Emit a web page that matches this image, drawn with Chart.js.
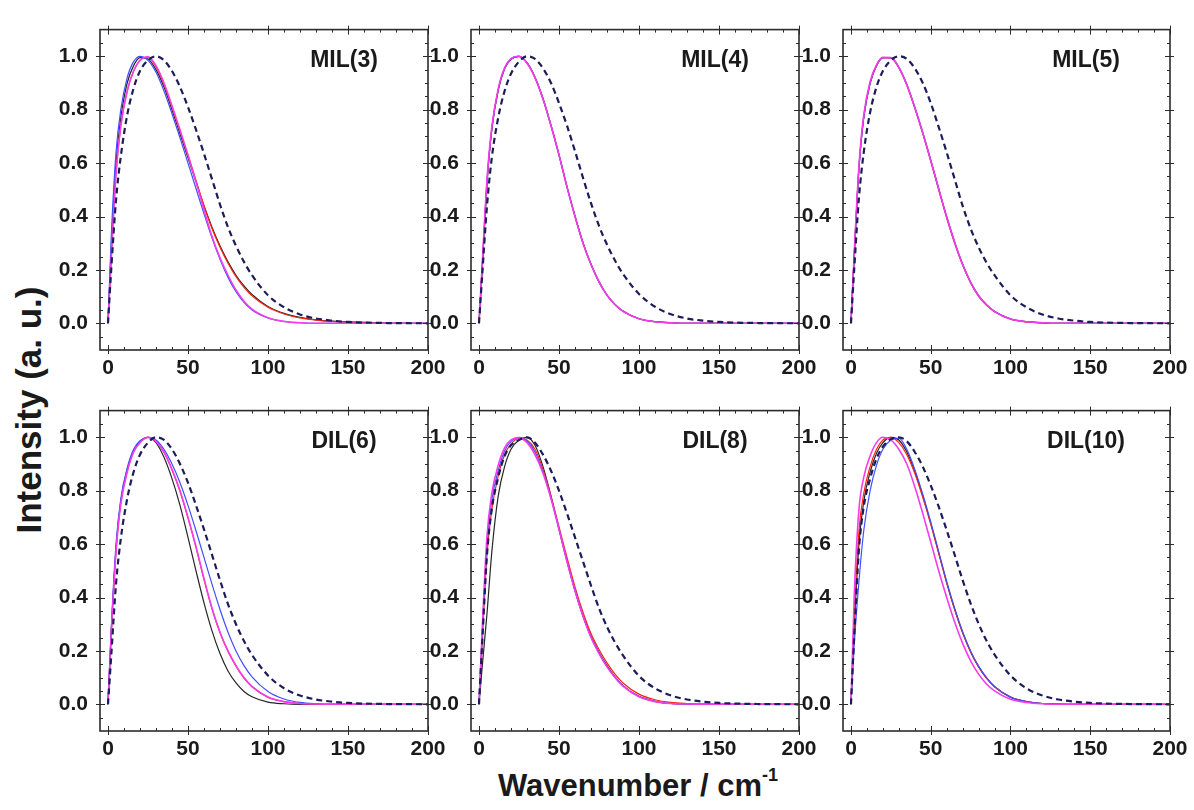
<!DOCTYPE html>
<html>
<head>
<meta charset="utf-8">
<script src="https://cdn.jsdelivr.net/npm/chart.js@4.4.1/dist/chart.umd.min.js"></script>
<style>
  body { margin: 0; background: #fff; width: 1194px; height: 810px; position: relative; overflow: hidden;
         font-family: 'Liberation Sans', Arial, sans-serif; color: #1a1a1a; }
  canvas { position: absolute; }
  .tag { position: absolute; font-weight: bold; font-size: 23px; transform: translate(-50%, -50%); white-space: nowrap; }
  #ytitle { position: absolute; left: 29px; top: 410px; transform: translate(-50%, -50%) rotate(-90deg);
            font-weight: bold; font-size: 35px; white-space: nowrap; }
  #xtitle { position: absolute; left: 638px; top: 786px; transform: translate(-50%, -50%);
            font-weight: bold; font-size: 31px; white-space: nowrap; }
  #xtitle sup { font-size: 18px; position: relative; top: -4px; }
</style>
</head>
<body>
<div id="ytitle">Intensity (a. u.)</div>
<div id="xtitle">Wavenumber / cm<sup>-1</sup></div>
<script>
// shared x grid (cm-1) and tick labels
const wavenumber = [0, 2, 5, 8, 12, 16, 20, 25, 30, 35, 40, 45, 50, 55, 60, 65, 70, 75, 80, 85, 90, 100, 110, 120, 130, 140, 150, 175, 200];
const xTicks = [0, 50, 100, 150, 200];
const yTicks = [0, 0.2, 0.4, 0.6, 0.8, 1.0];
const panelNames = ['MIL(3)', 'MIL(4)', 'MIL(5)', 'DIL(6)', 'DIL(8)', 'DIL(10)'];

// MIL(3)
const mil3Black   = [0, .28, .6, .77, .9, .965, .995, .99, .95, .885, .8, .71, .62, .53, .44, .36, .29, .23, .18, .14, .108, .063, .037, .022, .013, .008, .005, .001, 0];
const mil3Red     = [0, .24, .56, .74, .87, .945, .985, .997, .96, .895, .81, .72, .63, .535, .44, .355, .285, .225, .175, .135, .103, .06, .035, .02, .012, .007, .004, .001, 0];
const mil3Blue    = [0, .32, .64, .8, .92, .98, 1.0, .985, .94, .87, .785, .695, .6, .505, .41, .32, .24, .172, .118, .078, .05, .02, .007, .002, 0, 0, 0, 0, 0];
const mil3Magenta = [0, .24, .56, .74, .87, .945, .985, .998, .965, .9, .815, .725, .63, .53, .425, .325, .245, .18, .125, .083, .053, .021, .007, .002, 0, 0, 0, 0, 0];
const mil3Dashed  = [0, .2, .46, .625, .78, .88, .945, .985, 1.0, .985, .945, .885, .81, .725, .635, .54, .445, .36, .29, .23, .18, .105, .06, .033, .018, .01, .005, .001, 0];

// MIL(4)
const mil4Black   = [0, .2, .52, .725, .872, .953, .989, 1.0, .976, .922, .842, .742, .632, .512, .402, .302, .221, .156, .106, .071, .046, .017, .006, .002, 0, 0, 0, 0, 0];
const mil4Red     = [0, .21, .53, .73, .875, .955, .99, 1.0, .975, .92, .84, .74, .63, .51, .4, .3, .22, .155, .105, .07, .045, .017, .006, .002, 0, 0, 0, 0, 0];
const mil4Blue    = [0, .21, .53, .728, .874, .954, .99, 1.0, .975, .921, .841, .741, .631, .511, .401, .301, .221, .155, .105, .07, .045, .017, .006, .002, 0, 0, 0, 0, 0];
const mil4Magenta = [0, .22, .54, .735, .878, .957, .991, 1.0, .974, .92, .84, .74, .63, .51, .4, .3, .22, .155, .105, .07, .045, .017, .006, .002, 0, 0, 0, 0, 0];
const mil4Dashed  = [0, .18, .44, .62, .77, .87, .935, .98, 1.0, .99, .955, .9, .825, .74, .645, .545, .45, .365, .295, .235, .185, .11, .062, .034, .018, .01, .005, .001, 0];

// MIL(5)
const mil5Black   = [0, .25, .58, .77, .9, .965, .995, .995, .958, .893, .808, .713, .61, .503, .398, .303, .22, .153, .103, .069, .044, .016, .006, .002, 0, 0, 0, 0, 0];
const mil5Red     = [0, .25, .585, .775, .9, .965, .995, .994, .957, .892, .806, .711, .608, .5, .395, .3, .218, .151, .101, .067, .043, .015, .005, .001, 0, 0, 0, 0, 0];
const mil5Blue    = [0, .25, .58, .77, .9, .965, .995, .995, .96, .895, .81, .715, .612, .505, .4, .305, .222, .155, .105, .07, .045, .017, .006, .002, 0, 0, 0, 0, 0];
const mil5Magenta = [0, .26, .59, .78, .905, .968, .996, .995, .958, .893, .808, .713, .61, .503, .398, .303, .22, .153, .103, .069, .044, .016, .006, .002, 0, 0, 0, 0, 0];
const mil5Dashed  = [0, .2, .47, .64, .79, .885, .945, .985, 1.0, .99, .955, .9, .825, .735, .64, .54, .44, .355, .285, .227, .18, .105, .06, .033, .018, .01, .005, .001, 0];

// DIL(6)
const dil6Black   = [0, .27, .58, .76, .88, .95, .985, 1.0, .98, .925, .845, .745, .625, .5, .38, .275, .19, .125, .08, .048, .028, .008, .002, 0, 0, 0, 0, 0, 0];
const dil6Red     = [0, .26, .575, .755, .872, .946, .981, 1.0, .985, .944, .878, .798, .698, .588, .468, .358, .268, .198, .143, .098, .066, .026, .01, .003, .001, 0, 0, 0, 0];
const dil6Blue    = [0, .28, .6, .77, .885, .955, .987, 1.0, .99, .955, .9, .83, .745, .65, .55, .45, .355, .27, .2, .145, .103, .048, .02, .007, .002, 0, 0, 0, 0];
const dil6Magenta = [0, .26, .57, .75, .87, .945, .98, 1.0, .985, .945, .88, .8, .7, .59, .47, .36, .27, .2, .145, .1, .067, .027, .01, .003, .001, 0, 0, 0, 0];
const dil6Dashed  = [0, .18, .45, .62, .77, .87, .935, .98, 1.0, .99, .955, .9, .83, .745, .655, .56, .465, .375, .3, .237, .185, .108, .06, .033, .018, .01, .005, .001, 0];

// DIL(8)
const dil8Black   = [0, .14, .34, .57, .78, .89, .955, .99, 1.0, .97, .89, .78, .655, .535, .425, .33, .255, .195, .145, .103, .07, .03, .011, .003, .001, 0, 0, 0, 0];
const dil8Red     = [0, .23, .56, .73, .855, .935, .975, .997, .99, .955, .88, .78, .665, .55, .44, .345, .265, .205, .155, .113, .08, .038, .017, .007, .003, .001, 0, 0, 0];
const dil8Blue    = [0, .26, .6, .765, .875, .95, .985, 1.0, .985, .945, .87, .772, .657, .537, .427, .332, .252, .192, .142, .101, .069, .029, .011, .003, .001, 0, 0, 0, 0];
const dil8Magenta = [0, .28, .63, .79, .895, .96, .99, .998, .98, .935, .865, .77, .655, .535, .425, .33, .25, .19, .14, .1, .068, .028, .01, .003, .001, 0, 0, 0, 0];
const dil8Dashed  = [0, .23, .56, .73, .85, .93, .97, .99, 1.0, .98, .935, .875, .8, .715, .625, .535, .445, .36, .29, .232, .183, .106, .06, .033, .018, .01, .005, .001, 0];

// DIL(10)
const dil10Black   = [0, .28, .6, .76, .87, .94, .98, 1.0, .99, .945, .872, .78, .678, .567, .456, .356, .269, .197, .141, .098, .066, .027, .01, .003, .001, 0, 0, 0, 0];
const dil10Red     = [0, .32, .65, .79, .89, .955, .99, 1.0, .98, .935, .865, .775, .675, .565, .455, .355, .268, .196, .14, .097, .066, .027, .01, .003, .001, 0, 0, 0, 0];
const dil10Blue    = [0, .22, .46, .65, .8, .895, .955, .99, .997, .955, .88, .787, .683, .572, .46, .36, .272, .2, .143, .1, .067, .027, .01, .003, .001, 0, 0, 0, 0];
const dil10Magenta = [0, .4, .73, .85, .93, .98, 1.0, .99, .955, .9, .815, .715, .608, .5, .4, .308, .228, .163, .113, .076, .05, .019, .007, .002, 0, 0, 0, 0, 0];
const dil10Dashed  = [0, .25, .58, .74, .845, .92, .965, .993, 1.0, .985, .945, .89, .82, .74, .652, .56, .465, .378, .302, .238, .186, .108, .06, .033, .018, .01, .005, .001, 0];

const panelSeries = [
  [mil3Black, mil3Red, mil3Blue, mil3Magenta, mil3Dashed],
  [mil4Black, mil4Red, mil4Blue, mil4Magenta, mil4Dashed],
  [mil5Black, mil5Red, mil5Blue, mil5Magenta, mil5Dashed],
  [dil6Black, dil6Red, dil6Blue, dil6Magenta, dil6Dashed],
  [dil8Black, dil8Red, dil8Blue, dil8Magenta, dil8Dashed],
  [dil10Black, dil10Red, dil10Blue, dil10Magenta, dil10Dashed]
];

// layout of the plot boxes on the page
const plotLeft = [100, 471, 843], plotRight = [428, 799, 1170];
const plotTop = [17, 398], plotBottom = [350, 731];
const padL = 70, padR = 26, padT = 12, padB = 45;

const lineStyles = [
  { color: '#262626', width: 1.2, order: 4 },
  { color: '#ff2414', width: 1.2, order: 3 },
  { color: '#3f4fff', width: 1.2, order: 2 },
  { color: '#f43cec', width: 1.6, order: 1 },
  { color: '#1c1c5a', width: 2.2, order: 0, dash: [6, 4] }
];
const fontFamily = "'Liberation Sans', Arial, sans-serif";

// frame with Origin-style ticks on all four sides
const frameTicks = {
  id: 'frameTicks',
  afterDatasetsDraw(chart) {
    const { ctx, chartArea: a, scales: { x, y } } = chart;
    ctx.save();
    ctx.strokeStyle = '#2b2b2b';
    ctx.lineWidth = 1;
    ctx.beginPath();
    for (let v = 0; v <= 200; v += 10) {
      const px = Math.round(x.getPixelForValue(v)) + 0.5;
      const major = v % 50 === 0;
      const len = major ? 5 : 3;
      ctx.moveTo(px, a.bottom - len); ctx.lineTo(px, a.bottom + (major ? 4 : 0));
      ctx.moveTo(px, a.top + len); ctx.lineTo(px, a.top - (major ? 4 : 0));
    }
    for (let k = -1; k <= 21; k++) {
      const py = Math.round(y.getPixelForValue(k * 0.05)) + 0.5;
      const major = k % 4 === 0;
      const len = major ? 5 : 3;
      ctx.moveTo(a.left + len, py); ctx.lineTo(a.left - (major ? 4 : 0), py);
      ctx.moveTo(a.right - len, py); ctx.lineTo(a.right + (major ? 4 : 0), py);
    }
    ctx.stroke();
    ctx.lineWidth = 1.6;
    ctx.strokeRect(a.left, a.top, a.right - a.left, a.bottom - a.top);
    ctx.restore();
  }
};

panelSeries.forEach((series, p) => {
  const col = p % 3, row = Math.floor(p / 3);
  const w = plotRight[col] - plotLeft[col] + padL + padR;
  const h = plotBottom[row] - plotTop[row] + padT + padB;
  const canvas = document.createElement('canvas');
  canvas.width = w; canvas.height = h;
  canvas.style.left = (plotLeft[col] - padL) + 'px';
  canvas.style.top = (plotTop[row] - padT) + 'px';
  canvas.style.width = w + 'px'; canvas.style.height = h + 'px';
  document.body.appendChild(canvas);

  const tag = document.createElement('div');
  tag.className = 'tag';
  tag.textContent = panelNames[p];
  tag.style.left = (plotRight[col] - 84) + 'px';
  tag.style.top = (plotTop[row] + 42) + 'px';
  document.body.appendChild(tag);

  const datasets = series.map((vals, i) => ({
    data: wavenumber.map((x, j) => ({ x: x, y: vals[j] })),
    borderColor: lineStyles[i].color,
    borderWidth: lineStyles[i].width,
    borderDash: lineStyles[i].dash || [],
    order: lineStyles[i].order,
    fill: false
  }));

  new Chart(canvas.getContext('2d'), {
    type: 'line',
    data: { datasets: datasets },
    options: {
      responsive: false,
      animation: false,
      layout: { padding: { left: 0, right: padR, top: padT, bottom: 0 } },
      plugins: { legend: { display: false }, tooltip: { enabled: false } },
      elements: { point: { radius: 0 }, line: { cubicInterpolationMode: 'monotone' } },
      scales: {
        x: {
          type: 'linear', min: -5, max: 200,
          grid: { display: false, drawTicks: false },
          border: { display: false },
          afterBuildTicks: s => { s.ticks = xTicks.map(v => ({ value: v })); },
          afterFit: s => { s.height = padB; },
          ticks: { autoSkip: false, maxRotation: 0, padding: 6, color: '#1a1a1a',
                   font: { family: fontFamily, size: 21, weight: 'bold' } }
        },
        y: {
          min: -0.1, max: 1.1,
          grid: { display: false, drawTicks: false },
          border: { display: false },
          afterBuildTicks: s => { s.ticks = yTicks.map(v => ({ value: v })); },
          afterFit: s => { s.width = padL; },
          ticks: { autoSkip: false, padding: 12, color: '#1a1a1a',
                   font: { family: fontFamily, size: 21, weight: 'bold' },
                   callback: v => v.toFixed(1) }
        }
      }
    },
    plugins: [frameTicks]
  });
});
</script>
</body>
</html>
